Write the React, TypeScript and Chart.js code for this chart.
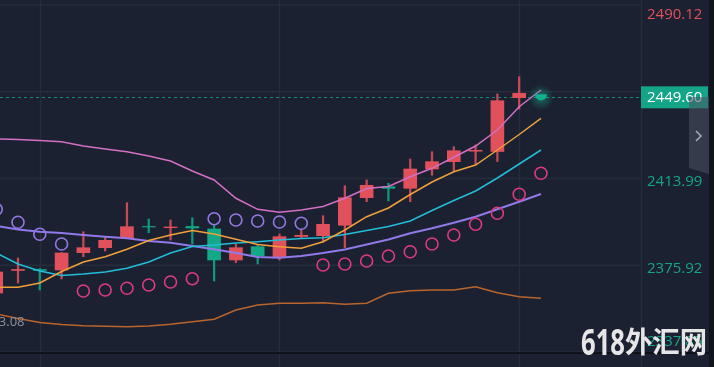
import React, { useEffect, useRef } from "react";
import { Chart, registerables } from "chart.js";

Chart.register(...registerables);

// ---- data ----
const candleIndex = [-1, 0, 1, 2, 3, 4, 5, 6, 7, 8, 9, 10, 11, 12, 13, 14, 15, 16, 17, 18, 19, 20, 21, 22, 23];
const opens = [2363.77, 2373.64, 2374.08, 2373.86, 2381.45, 2383.64, 2387.89, 2392.94, 2392.41, 2392.94, 2391.84, 2378.24, 2384.08, 2379.69, 2388.55, 2388.9, 2393.46, 2405.57, 2410.39, 2409.69, 2418.16, 2421.36, 2425.96, 2425.83, 2449.43];
const highs = [2374.74, 2379.12, 2374.52, 2381.53, 2390.66, 2388.46, 2403.38, 2396.23, 2395.79, 2396.8, 2393.59, 2385.13, 2384.82, 2389.65, 2391.4, 2397.67, 2410.83, 2413.33, 2411.88, 2422.54, 2425.74, 2427.94, 2428.68, 2451.05, 2458.64];
const lows = [2362.45, 2368.16, 2365.09, 2369.91, 2379.69, 2382.19, 2387.67, 2390.22, 2387.02, 2385.26, 2369.03, 2377.06, 2376.49, 2378.24, 2387.59, 2386.01, 2383.64, 2403.81, 2404.12, 2403.81, 2415.39, 2417.41, 2420.22, 2421.45, 2444.47];
const closes = [2372.98, 2374.08, 2373.64, 2381.31, 2383.64, 2386.88, 2392.85, 2392.72, 2392.72, 2392.28, 2378.24, 2383.64, 2380.0, 2388.46, 2389.08, 2393.9, 2405.57, 2411.01, 2409.69, 2418.16, 2421.36, 2426.18, 2426.36, 2448.11, 2451.36];

const lineIndex = [-1, 0, 1, 2, 3, 4, 5, 6, 7, 8, 9, 10, 11, 12, 13, 14, 15, 16, 17, 18, 19, 20, 21, 22, 23, 24];
const upperBand = [2431.31, 2431.1, 2430.66, 2430.13, 2428.24, 2426.93, 2425.74, 2423.86, 2421.67, 2417.28, 2413.33, 2405.31, 2400.48, 2399.17, 2400.17, 2401.71, 2405.31, 2409.6, 2410.48, 2414.78, 2418.46, 2423.29, 2428.24, 2435.26, 2445.48, 2452.81];
const ma5 = [2366.27, 2366.27, 2368.16, 2373.2, 2377.37, 2379.69, 2382.94, 2386.8, 2389.21, 2391.18, 2389.65, 2387.32, 2385.04, 2384.08, 2383.38, 2386.27, 2391.4, 2397.24, 2401.05, 2406.97, 2412.45, 2416.97, 2419.91, 2426.49, 2433.29, 2440.39];
const ma10 = [2381.31, 2376.49, 2373.42, 2371.45, 2372.1, 2372.98, 2374.6, 2377.37, 2381.31, 2384.17, 2384.82, 2385.7, 2386.27, 2387.02, 2387.67, 2387.98, 2389.43, 2391.18, 2392.94, 2395.35, 2399.95, 2404.34, 2408.51, 2414.21, 2420.35, 2426.49];
const midBand = [2393.16, 2391.62, 2390.66, 2390.09, 2389.21, 2388.46, 2387.76, 2386.58, 2385.83, 2384.38, 2382.94, 2381.31, 2379.56, 2379.25, 2380.0, 2381.31, 2382.85, 2385.04, 2387.24, 2389.95, 2392.15, 2394.6, 2397.24, 2400.48, 2403.81, 2407.19];
const lowerBand = [2354.56, 2352.59, 2350.83, 2349.95, 2349.43, 2349.16, 2348.99, 2349.3, 2350.04, 2351.18, 2352.24, 2356.31, 2358.51, 2359.25, 2359.25, 2359.52, 2358.81, 2359.25, 2363.64, 2364.78, 2365.09, 2365.09, 2366.53, 2363.9, 2362.15, 2361.45];
const sar = [2400.48, 2394.78, 2389.52, 2385.26, 2364.65, 2365.09, 2365.83, 2367.28, 2368.59, 2370.04, 2396.36, 2395.79, 2395.35, 2394.91, 2394.34, 2376.05, 2376.49, 2377.81, 2380.0, 2381.88, 2385.26, 2389.21, 2393.9, 2398.73, 2407.06, 2416.27];

const yTicks = [2490.12, 2452.06, 2413.99, 2375.92, 2337.85];
const yTickLabels = ["2490.12", "2452.06", "2413.99", "2375.92", "2337.85"];
const lastPrice = 2449.6;
const lastPriceLabel = "2449.60";
const lastIndex = 24;
const lowMarkLabel = "2353.08";
const gridIndex = [1, 12, 23];
const watermarkDigits = "618";
const watermarkCJK = "外汇网";

const X_MIN = -0.826;
const X_MAX = 28.591;
const Y_MIN = 2337.45;
const Y_MAX = 2492.28;

// ---- styles ----
const BG = "#1b2130";
const GRID = "#252d3b";
const UP = "#e0515c";
const DOWN = "#13a888";
const UP_WICK = "#c44b56";
const DOWN_WICK = "#11977b";
const SAR_ABOVE = "#9378e4";
const SAR_BELOW = "#dd3a80";
const TEAL = "#14a589";
const AXIS_FONT = '15px "Open Sans", "Noto Sans", sans-serif';

export default function App() {
  const ref = useRef<HTMLCanvasElement | null>(null);

  useEffect(() => {
    const canvas = ref.current;
    if (!canvas) return;

    const isUp = candleIndex.map((_, k) => closes[k] >= opens[k]);
    const bodies = candleIndex.map((x, k) => ({
      x,
      y: [Math.min(opens[k], closes[k]), Math.max(opens[k], closes[k])],
    }));
    const wicks = candleIndex.map((x, k) => ({ x, y: [lows[k], highs[k]] }));
    const closesExt = [...closes, lastPrice];
    const sarColors = sar.map((v, k) => (v > closesExt[k] ? SAR_ABOVE : SAR_BELOW));
    const pts = (arr: number[]) => lineIndex.map((x, k) => ({ x, y: arr[k] }));

    const decor = {
      id: "decor",
      beforeDraw(chart: any) {
        const ctx = chart.ctx;
        ctx.save();
        ctx.fillStyle = BG;
        ctx.fillRect(0, 0, chart.width, chart.height);
        ctx.restore();
      },
      beforeDatasetsDraw(chart: any) {
        const ctx = chart.ctx;
        const xs = chart.scales.x;
        const ys = chart.scales.y;
        const area = chart.chartArea;
        ctx.save();
        ctx.strokeStyle = GRID;
        ctx.lineWidth = 1.5;
        gridIndex.forEach((gi) => {
          const px = Math.round(xs.getPixelForValue(gi)) + 0.5;
          ctx.beginPath();
          ctx.moveTo(px, 0);
          ctx.lineTo(px, chart.height);
          ctx.stroke();
        });
        yTicks.forEach((t) => {
          const py = ys.getPixelForValue(t);
          ctx.beginPath();
          ctx.moveTo(area.left, py);
          ctx.lineTo(area.right, py);
          ctx.stroke();
        });
        const lp = ys.getPixelForValue(lastPrice);
        ctx.strokeStyle = "#168a74";
        ctx.lineWidth = 1;
        ctx.setLineDash([3, 3]);
        ctx.beginPath();
        ctx.moveTo(area.left, Math.round(lp) + 0.5);
        ctx.lineTo(area.right, Math.round(lp) + 0.5);
        ctx.stroke();
        ctx.setLineDash([]);
        ctx.restore();
      },
      afterDatasetsDraw(chart: any) {
        const ctx = chart.ctx;
        const xs = chart.scales.x;
        const ys = chart.scales.y;
        const area = chart.chartArea;
        ctx.save();
        const gx = xs.getPixelForValue(lastIndex);
        const gy = ys.getPixelForValue(lastPrice);
        const grad = ctx.createRadialGradient(gx, gy, 0, gx, gy, 13);
        grad.addColorStop(0, "rgba(20,200,160,0.55)");
        grad.addColorStop(0.5, "rgba(20,180,150,0.25)");
        grad.addColorStop(1, "rgba(20,180,150,0)");
        ctx.fillStyle = grad;
        ctx.beginPath();
        ctx.arc(gx, gy, 13, 0, Math.PI * 2);
        ctx.fill();
        ctx.fillStyle = "#12b08f";
        ctx.beginPath();
        ctx.moveTo(gx - 6, gy - 3);
        ctx.lineTo(gx + 6, gy - 3);
        ctx.arc(gx, gy - 3, 6, 0, Math.PI, false);
        ctx.closePath();
        ctx.fill();

        ctx.font = '13px "Open Sans", "Noto Sans", sans-serif';
        ctx.fillStyle = "#8d939d";
        ctx.textAlign = "right";
        ctx.textBaseline = "middle";
        ctx.fillText(lowMarkLabel, 24.5, 322.5);

        ctx.strokeStyle = GRID;
        ctx.lineWidth = 1.5;
        ctx.beginPath();
        ctx.moveTo(area.right + 0.5, 0);
        ctx.lineTo(area.right + 0.5, chart.height);
        ctx.stroke();
        ctx.strokeStyle = "#0a0d12";
        ctx.lineWidth = 1.5;
        ctx.beginPath();
        ctx.moveTo(0, area.bottom);
        ctx.lineTo(709, area.bottom);
        ctx.stroke();

        ctx.font = AXIS_FONT;
        ctx.textAlign = "left";
        ctx.textBaseline = "middle";
        yTicks.forEach((t, k) => {
          const py = Math.min(342, Math.max(15, ys.getPixelForValue(t) + 3));
          ctx.fillStyle = t > lastPrice ? UP : TEAL;
          ctx.fillText(yTickLabels[k], area.right + 6, py);
        });

        const by = ys.getPixelForValue(lastPrice);
        ctx.fillStyle = TEAL;
        ctx.fillRect(area.right, by - 11, 67, 22);
        ctx.fillStyle = "#ffffff";
        ctx.fillText(lastPriceLabel, area.right + 6, by + 0.5);

        ctx.fillStyle = "rgba(74,82,98,0.55)";
        ctx.beginPath();
        ctx.moveTo(689, 97);
        ctx.lineTo(709, 97);
        ctx.lineTo(709, 174);
        ctx.lineTo(689, 168);
        ctx.closePath();
        ctx.fill();
        ctx.strokeStyle = "#a3a8b2";
        ctx.lineWidth = 1.6;
        ctx.beginPath();
        ctx.moveTo(696, 131);
        ctx.lineTo(701, 136);
        ctx.lineTo(696, 141);
        ctx.stroke();

        ctx.fillStyle = "#10141b";
        ctx.fillRect(709, 0, 5, chart.height);

        ctx.fillStyle = "#e6e6e6";
        ctx.textBaseline = "alphabetic";
        ctx.textAlign = "left";
        ctx.font = 'bold 36px "Noto Sans", sans-serif';
        const dw = ctx.measureText(watermarkDigits).width;
        ctx.save();
        ctx.translate(581, 355);
        ctx.scale(44 / dw, 1);
        ctx.fillText(watermarkDigits, 0, 0);
        ctx.restore();
        ctx.font = 'bold 29px "Noto Sans CJK SC", sans-serif';
        const cw = ctx.measureText(watermarkCJK).width;
        ctx.save();
        ctx.translate(625, 342);
        ctx.textBaseline = "middle";
        ctx.scale(82 / cw, 1);
        ctx.fillText(watermarkCJK, 0, 0);
        ctx.restore();

        ctx.restore();
      },
    };

    const line = (arr: number[], color: string, width: number) => ({
      type: "line" as const,
      data: pts(arr),
      borderColor: color,
      borderWidth: width,
      pointRadius: 0,
      tension: 0,
      fill: false,
      order: 2,
    });

    const chart = new Chart(canvas, {
      type: "bar",
      data: {
        datasets: [
          {
            type: "line",
            data: pts(sar),
            showLine: false,
            pointRadius: 6,
            pointBorderWidth: 1.6,
            pointBackgroundColor: "rgba(0,0,0,0)",
            pointBorderColor: sarColors,
            order: 0,
          } as any,
          line(upperBand, "#d36fc4", 1.5),
          line(ma5, "#f0a03a", 1.5),
          line(ma10, "#22bdd8", 1.5),
          line(midBand, "#9179ea", 2),
          line(lowerBand, "#b9652d", 1.5),
          {
            type: "bar",
            data: bodies as any,
            backgroundColor: isUp.map((u) => (u ? UP : DOWN)),
            barThickness: 13,
            grouped: false,
            borderWidth: 0,
            order: 10,
          } as any,
          {
            type: "bar",
            data: wicks as any,
            backgroundColor: isUp.map((u) => (u ? UP_WICK : DOWN_WICK)),
            barThickness: 1.6,
            grouped: false,
            borderWidth: 0,
            order: 11,
          } as any,
        ],
      },
      options: {
        responsive: false,
        animation: false,
        devicePixelRatio: 1,
        events: [],
        layout: { autoPadding: false, padding: { left: 0, top: 0, right: 73, bottom: 14 } },
        plugins: { legend: { display: false }, tooltip: { enabled: false } },
        scales: {
          x: { type: "linear", min: X_MIN, max: X_MAX, offset: false, display: false },
          y: { type: "linear", min: Y_MIN, max: Y_MAX, display: false },
        },
      } as any,
      plugins: [decor],
    });

    return () => chart.destroy();
  }, []);

  return (
    <div style={{ position: "fixed", left: 0, top: 0, width: 714, height: 367, background: BG }}>
      <canvas ref={ref} width={714} height={367} style={{ display: "block" }} />
    </div>
  );
}
